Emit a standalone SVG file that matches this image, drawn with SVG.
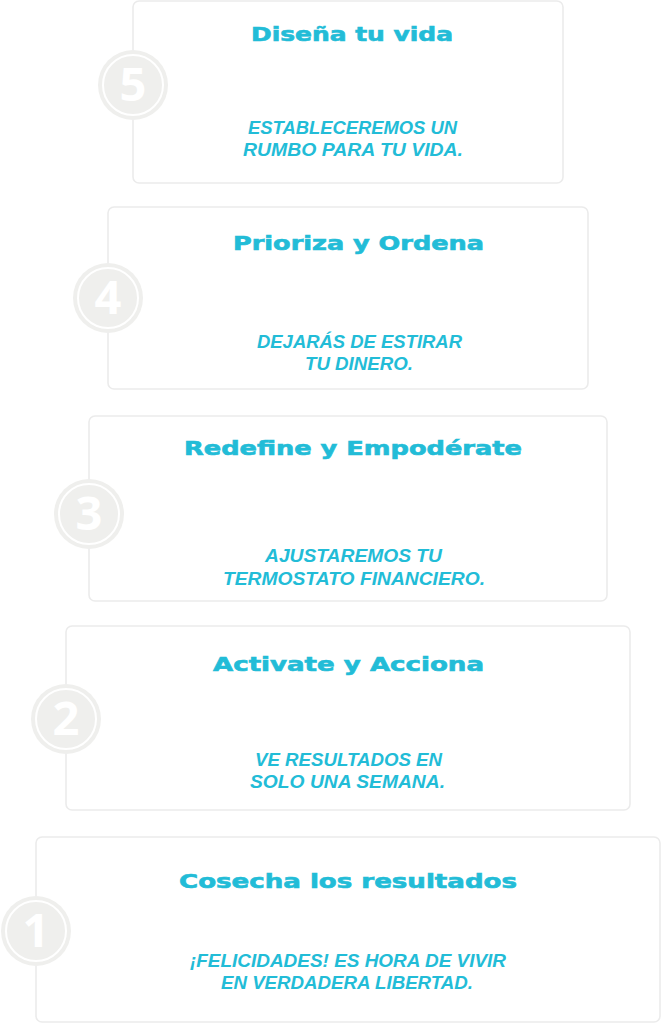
<svg xmlns="http://www.w3.org/2000/svg" width="661" height="1024" viewBox="0 0 661 1024">
<style>
.card{fill:#ffffff;stroke:#ebebeb;stroke-width:1.6}
.disc{fill:#efefed}
.ring{fill:none;stroke:#ffffff;stroke-width:2}
.num{font-family:"Open Sans","DejaVu Sans",sans-serif;font-weight:700;font-size:47px;fill:#ffffff;text-anchor:middle}
.title{font-family:"DejaVu Sans","Liberation Sans",sans-serif;font-weight:700;font-size:19px;fill:#22bcd7;stroke:#22bcd7;stroke-width:0.6}
.body{font-family:"Liberation Sans","Arial",sans-serif;font-style:italic;font-weight:700;font-size:19px;fill:#22bcd7}
</style>
<rect width="661" height="1024" fill="#ffffff"/>
<g id="step5">
<rect class="card" x="133" y="1" width="430" height="182" rx="6"/>
<circle class="disc" cx="133" cy="85" r="35"/>
<circle class="ring" cx="133" cy="85" r="30"/>
<text class="num" x="133" y="101">5</text>
<text class="title" x="251" y="41" textLength="202" lengthAdjust="spacingAndGlyphs">Diseña tu vida</text>
<text class="body" x="248" y="134" textLength="209" lengthAdjust="spacingAndGlyphs">ESTABLECEREMOS UN</text>
<text class="body" x="243" y="156" textLength="220" lengthAdjust="spacingAndGlyphs">RUMBO PARA TU VIDA.</text>
</g>
<g id="step4">
<rect class="card" x="108" y="207" width="480" height="182" rx="6"/>
<circle class="disc" cx="108" cy="298" r="35"/>
<circle class="ring" cx="108" cy="298" r="30"/>
<text class="num" x="108" y="314">4</text>
<text class="title" x="233" y="250" textLength="251" lengthAdjust="spacingAndGlyphs">Prioriza y Ordena</text>
<text class="body" x="257" y="348" textLength="205" lengthAdjust="spacingAndGlyphs">DEJARÁS DE ESTIRAR</text>
<text class="body" x="305" y="370" textLength="108" lengthAdjust="spacingAndGlyphs">TU DINERO.</text>
</g>
<g id="step3">
<rect class="card" x="89" y="416" width="518" height="185" rx="6"/>
<circle class="disc" cx="89" cy="514" r="35"/>
<circle class="ring" cx="89" cy="514" r="30"/>
<text class="num" x="89" y="530">3</text>
<text class="title" x="184" y="455" textLength="338" lengthAdjust="spacingAndGlyphs">Redefine y Empodérate</text>
<text class="body" x="265" y="562" textLength="177" lengthAdjust="spacingAndGlyphs">AJUSTAREMOS TU</text>
<text class="body" x="223" y="585" textLength="262" lengthAdjust="spacingAndGlyphs">TERMOSTATO FINANCIERO.</text>
</g>
<g id="step2">
<rect class="card" x="66" y="626" width="564" height="184" rx="6"/>
<circle class="disc" cx="66" cy="719" r="35"/>
<circle class="ring" cx="66" cy="719" r="30"/>
<text class="num" x="66" y="735">2</text>
<text class="title" x="213" y="671" textLength="271" lengthAdjust="spacingAndGlyphs">Activate y Acciona</text>
<text class="body" x="255" y="766" textLength="187" lengthAdjust="spacingAndGlyphs">VE RESULTADOS EN</text>
<text class="body" x="250" y="788" textLength="195" lengthAdjust="spacingAndGlyphs">SOLO UNA SEMANA.</text>
</g>
<g id="step1">
<rect class="card" x="36" y="837" width="624" height="185" rx="6"/>
<circle class="disc" cx="36" cy="931" r="35"/>
<circle class="ring" cx="36" cy="931" r="30"/>
<text class="num" x="36" y="947">1</text>
<text class="title" x="179" y="888" textLength="338" lengthAdjust="spacingAndGlyphs">Cosecha los resultados</text>
<text class="body" x="190" y="967" textLength="316" lengthAdjust="spacingAndGlyphs">¡FELICIDADES! ES HORA DE VIVIR</text>
<text class="body" x="221" y="989" textLength="252" lengthAdjust="spacingAndGlyphs">EN VERDADERA LIBERTAD.</text>
</g>
<g id="connectors"></g>
</svg>
